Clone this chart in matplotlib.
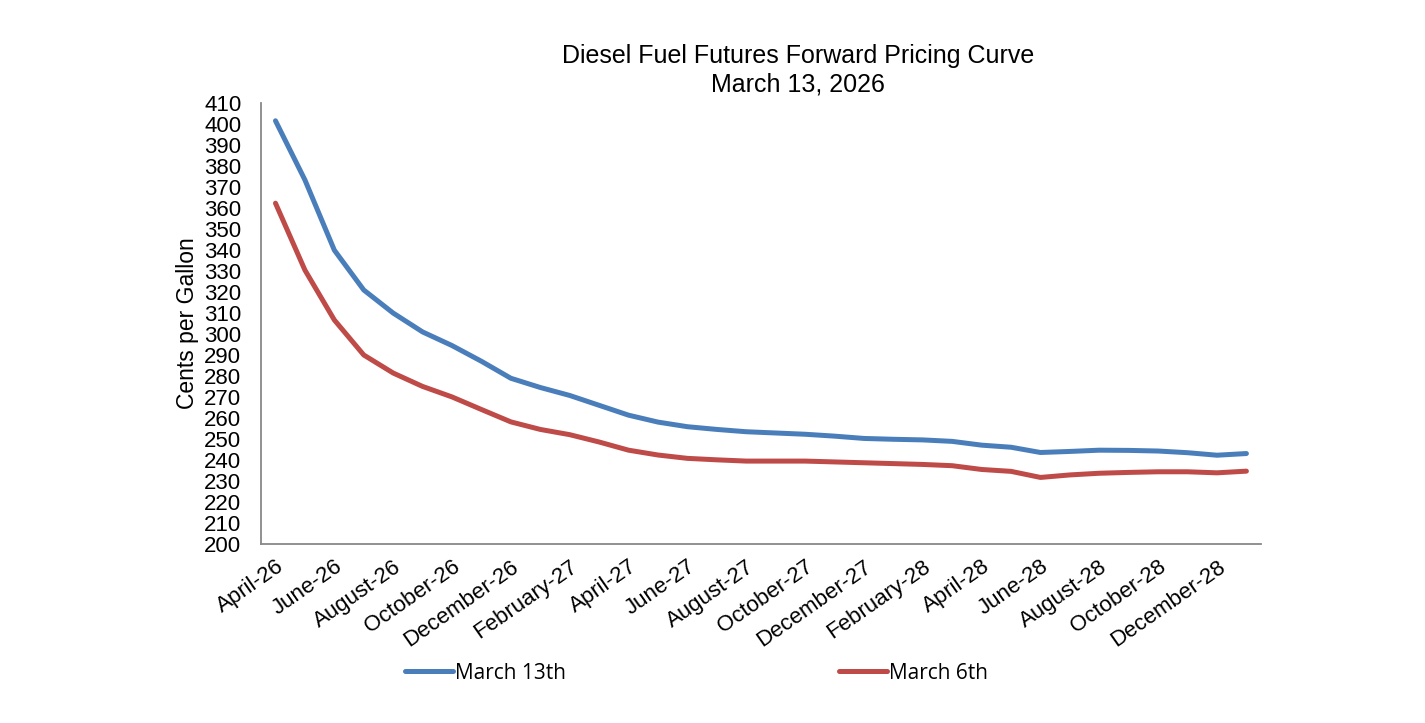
import matplotlib
matplotlib.use('Agg')
import matplotlib.pyplot as plt

# Contract months (April-26 .. January-29)
months = ['April-26', 'May-26', 'June-26', 'July-26', 'August-26', 'September-26',
          'October-26', 'November-26', 'December-26', 'January-27', 'February-27',
          'March-27', 'April-27', 'May-27', 'June-27', 'July-27', 'August-27',
          'September-27', 'October-27', 'November-27', 'December-27', 'January-28',
          'February-28', 'March-28', 'April-28', 'May-28', 'June-28', 'July-28',
          'August-28', 'September-28', 'October-28', 'November-28', 'December-28',
          'January-29']

march_13 = [401.7, 373.5, 340.0, 321.0, 310.0, 301.0, 294.5, 287.0, 278.9, 274.5,
            270.7, 266.0, 261.3, 258.0, 255.8, 254.5, 253.4, 252.8, 252.2, 251.3,
            250.2, 249.8, 249.5, 248.8, 247.0, 246.0, 243.5, 244.0, 244.6, 244.5,
            244.2, 243.4, 242.2, 243.0]

march_6 = [362.4, 330.5, 306.7, 290.0, 281.4, 275.0, 270.0, 264.0, 258.1, 254.5,
           252.0, 248.5, 244.6, 242.3, 240.7, 240.0, 239.4, 239.4, 239.4, 239.0,
           238.6, 238.2, 237.8, 237.2, 235.4, 234.5, 231.6, 232.8, 233.6, 234.0,
           234.3, 234.3, 233.8, 234.6]

plt.rcParams['font.family'] = ['Liberation Sans', 'DejaVu Sans']

fig = plt.figure(figsize=(14.25, 7.23), dpi=100)
ax = fig.add_axes([0.183, 0.248, 0.702, 0.609])

x = list(range(len(months)))
l1, = ax.plot(x, march_13, color='#4A7EBB', linewidth=3.6, solid_capstyle='round',
              label='March 13th')
l2, = ax.plot(x, march_6, color='#BE4B48', linewidth=3.6, solid_capstyle='round',
              label='March 6th')

ax.set_xlim(-0.5, len(months) - 0.5)
ax.set_ylim(200, 410)
ax.set_yticks(range(200, 411, 10))
ax.set_xticks(x[::2])
ax.set_xticklabels(months[::2], rotation=35, ha='right', rotation_mode='anchor')
ax.tick_params(axis='both', length=0, labelsize=16)
ax.tick_params(axis='y', pad=14)
ax.tick_params(axis='x', pad=9)

for s in ['top', 'right']:
    ax.spines[s].set_visible(False)
for s in ['left', 'bottom']:
    ax.spines[s].set_color('#888888')
    ax.spines[s].set_linewidth(1.3)

ax.set_ylabel('Cents per Gallon', fontsize=16.5, labelpad=4)

fig.text(0.56, 0.903, 'Diesel Fuel Futures Forward Pricing Curve\nMarch 13, 2026',
         ha='center', va='center', fontsize=18, linespacing=1.25)

fig.legend(handles=[l1, l2], loc='center', bbox_to_anchor=(0.489, 0.069), ncol=2,
           frameon=False, handlelength=2.3, handletextpad=0.1, columnspacing=13.1,
           prop={'family': 'Open Sans', 'size': 15})

fig.savefig('out.png', dpi=100)
